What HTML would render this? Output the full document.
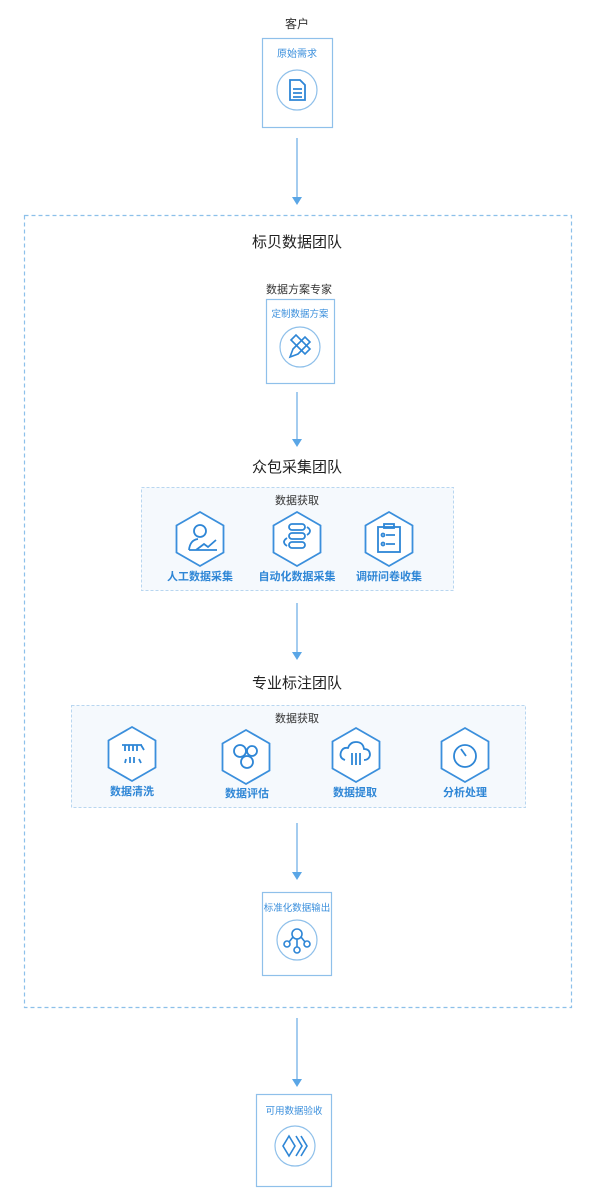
<!DOCTYPE html>
<html><head><meta charset="utf-8"><style>
html,body{margin:0;padding:0;background:#fff;width:600px;height:1195px;overflow:hidden}
text{font-family:"Liberation Sans","Noto Sans CJK SC",sans-serif}
</style></head><body>
<svg width="600" height="1195" viewBox="0 0 600 1195" xmlns="http://www.w3.org/2000/svg">
<defs>
<g id="hex"><polygon points="0,-27 23.5,-13.5 23.5,13.5 0,27 -23.5,13.5 -23.5,-13.5" fill="#fff" stroke="#3b8fdc" stroke-width="1.8"/></g>
</defs>
<!-- top -->
<text x="297" y="28" font-size="12" text-anchor="middle" fill="#333">客户</text>
<rect x="262.5" y="38.5" width="70" height="89" fill="#fff" stroke="#8fc0ea" stroke-width="1.2"/>
<text x="297" y="57" font-size="10" text-anchor="middle" fill="#3b8fdc">原始需求</text>
<circle cx="297" cy="90" r="20" fill="none" stroke="#8fc0ea" stroke-width="1.2"/>
<g fill="none" stroke="#2e86d6" stroke-width="1.8"><path d="M290,80 h10 l5,5 v15 h-15 z"/><path d="M293,89 h9 M293,93 h9 M293,97 h9"/></g>
<g stroke="#7db6e8" stroke-width="1.4">
<line x1="297" y1="138" x2="297" y2="198"/>
<line x1="297" y1="392" x2="297" y2="440"/>
<line x1="297" y1="603" x2="297" y2="653"/>
<line x1="297" y1="823" x2="297" y2="873"/>
<line x1="297" y1="1018" x2="297" y2="1080"/>
</g>
<g fill="#5aa6e6">
<polygon points="292,197 302,197 297,205"/>
<polygon points="292,439 302,439 297,447"/>
<polygon points="292,652 302,652 297,660"/>
<polygon points="292,872 302,872 297,880"/>
<polygon points="292,1079 302,1079 297,1087"/>
</g>
<!-- big box -->
<rect x="24.5" y="215.5" width="547" height="792" fill="none" stroke="#8cc0ea" stroke-width="1.2" stroke-dasharray="4,3"/>
<text x="297" y="247" font-size="15" text-anchor="middle" fill="#222">标贝数据团队</text>
<text x="299" y="293" font-size="11" text-anchor="middle" fill="#333">数据方案专家</text>
<rect x="266.5" y="299.5" width="68" height="84" fill="#fff" stroke="#8fc0ea" stroke-width="1.2"/>
<text x="300" y="317" font-size="9.5" text-anchor="middle" fill="#3b8fdc">定制数据方案</text>
<circle cx="300" cy="347" r="20" fill="none" stroke="#8fc0ea" stroke-width="1.2"/>
<g fill="none" stroke="#2e86d6" stroke-width="1.6"><path d="M290,357 l3,-8 l12,-12 l5,5 l-12,12 z"/><path d="M291,340 l5,-5 l14,14 l-5,5 z"/></g>
<text x="297" y="472" font-size="15" text-anchor="middle" fill="#222">众包采集团队</text>
<rect x="141.5" y="487.5" width="312" height="103" fill="#f5f9fd" stroke="#b8d6f0" stroke-width="1" stroke-dasharray="3,2"/>
<text x="297" y="504" font-size="11" text-anchor="middle" fill="#333">数据获取</text>
<use href="#hex" x="200" y="539"/><use href="#hex" x="297" y="539"/><use href="#hex" x="389" y="539"/>
<g fill="none" stroke="#2e86d6" stroke-width="1.8">
<circle cx="200" cy="531" r="6"/><path d="M189,550 q1,-10 9,-11 M196,550 l8,-6 l4,3 l8,-7 M189,550 h28"/>
<rect x="289" y="524" width="16" height="6" rx="3"/><rect x="289" y="533" width="16" height="6" rx="3"/><rect x="289" y="542" width="16" height="6" rx="3"/>
<path d="M307,527 q6,4 0,8 M287,538 q-6,4 0,8"/>
<rect x="378" y="527" width="22" height="25"/><rect x="384" y="524" width="10" height="4"/>
<circle cx="383" cy="535" r="1.5"/><circle cx="383" cy="544" r="1.5"/><path d="M386,535 h9 M386,544 h9"/>
</g>
<g font-size="11" fill="#2e86d6" text-anchor="middle" font-weight="bold"><text x="200" y="580">人工数据采集</text><text x="297" y="580">自动化数据采集</text><text x="389" y="580">调研问卷收集</text></g>
<text x="297" y="688" font-size="15" text-anchor="middle" fill="#222">专业标注团队</text>
<rect x="71.5" y="705.5" width="454" height="102" fill="#f5f9fd" stroke="#b8d6f0" stroke-width="1" stroke-dasharray="3,2"/>
<text x="297" y="722" font-size="11" text-anchor="middle" fill="#333">数据获取</text>
<use href="#hex" x="132" y="754"/><use href="#hex" x="246" y="757"/><use href="#hex" x="356" y="755"/><use href="#hex" x="465" y="755"/>
<g fill="none" stroke="#2e86d6" stroke-width="1.8">
<path d="M122,745 h20 M125,745 v6 M129,745 v6 M133,745 v6 M137,745 v6 M141,745 l3,5 M126,759 l-1,4 M130,757 v6 M134,757 v6 M139,759 l2,4"/>
<circle cx="240" cy="751" r="6"/><circle cx="252" cy="751" r="5"/><circle cx="247" cy="762" r="6"/>
<path d="M345,760 q-6,-2 -4,-8 q2,-5 7,-4 q2,-6 8,-6 q7,0 8,7 q6,0 6,6 q-1,5 -6,5"/><path d="M352,765 v-12 M356,765 v-12 M360,765 v-12"/>
<circle cx="465" cy="756" r="11"/><path d="M461,749 l5,7"/>
</g>
<g font-size="11" fill="#2e86d6" text-anchor="middle" font-weight="bold"><text x="132" y="795">数据清洗</text><text x="247" y="797">数据评估</text><text x="355" y="796">数据提取</text><text x="465" y="796">分析处理</text></g>
<rect x="262.5" y="892.5" width="69" height="83" fill="#fff" stroke="#8fc0ea" stroke-width="1.2"/>
<text x="297" y="911" font-size="9.5" text-anchor="middle" fill="#3b8fdc">标准化数据输出</text>
<circle cx="297" cy="940" r="20" fill="none" stroke="#8fc0ea" stroke-width="1.2"/>
<g fill="none" stroke="#2e86d6" stroke-width="1.6"><circle cx="297" cy="934" r="5"/><circle cx="287" cy="944" r="3"/><circle cx="307" cy="944" r="3"/><circle cx="297" cy="950" r="3"/><path d="M297,939 v8 M293,937 l-4,5 M301,937 l4,5"/></g>
<rect x="256.5" y="1094.5" width="75" height="92" fill="#fff" stroke="#8fc0ea" stroke-width="1.2"/>
<text x="294" y="1114" font-size="9.5" text-anchor="middle" fill="#3b8fdc">可用数据验收</text>
<circle cx="295" cy="1146" r="20" fill="none" stroke="#8fc0ea" stroke-width="1.2"/>
<g fill="none" stroke="#2e86d6" stroke-width="1.6"><path d="M289,1136 l-6,10 l6,10 l6,-10 z"/><path d="M296,1136 l6,10 l-6,10 M301,1136 l6,10 l-6,10"/></g>
</svg>
</body></html>
